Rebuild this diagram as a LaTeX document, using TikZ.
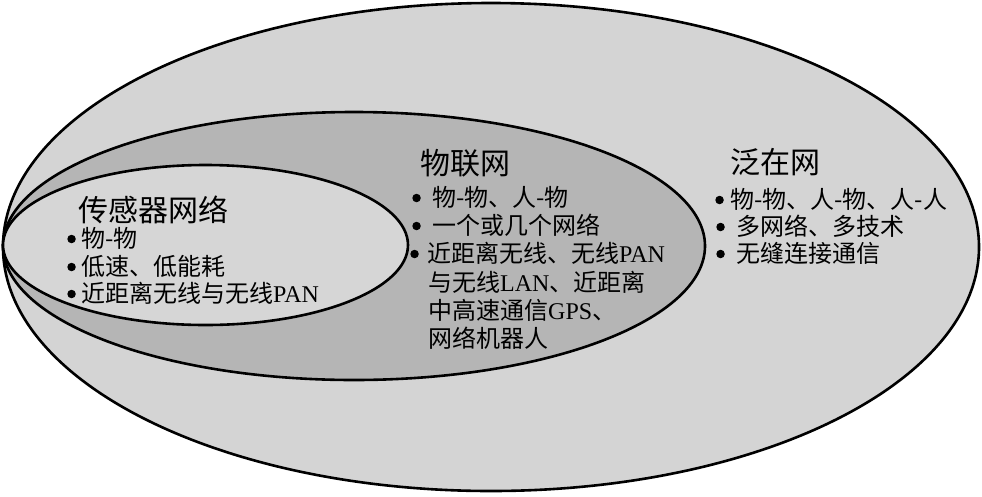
\documentclass[tikz,border=0pt]{standalone}
\usepackage{fontspec}
\setmainfont{Liberation Serif}
\newfontfamily\cjk{Noto Sans CJK SC}

\definecolor{outerfill}{gray}{0.83}
\definecolor{midfill}{gray}{0.71}
\definecolor{innerfill}{gray}{0.84}

\newcommand{\lat}[1]{{\rmfamily #1}}

\tikzset{
    netring/.style={draw=black, line width=2.6pt},
    nettitle/.style={anchor=base west, inner sep=0pt, text height=26pt, text depth=4pt,
        font=\cjk\fontsize{30}{30}\selectfont},
    netitem/.style={anchor=base west, inner sep=0pt, text height=20pt, text depth=4pt,
        font=\cjk\fontsize{24}{24}\selectfont},
    bulletdot/.style={circle, fill=black, inner sep=0pt, minimum size=8.5pt},
    bulleted/.style={label={[bulletdot, label distance=#1]left:{}}}
}

\begin{document}
\begin{tikzpicture}[x=1pt, y=-1pt, line cap=round, line join=round]

    \useasboundingbox (0,0) rectangle (982,496);

    % ------------------------------------------------------------------
    % 1. Nested rings, all touching at the left end
    % ------------------------------------------------------------------
    \filldraw[netring, fill=outerfill] (491,247) ellipse [x radius=488pt, y radius=244pt];
    \filldraw[netring, fill=midfill]   (354,246) ellipse [x radius=351pt, y radius=134pt];
    \filldraw[netring, fill=innerfill] (205.5,245) ellipse [x radius=202.5pt, y radius=80pt];

    % ------------------------------------------------------------------
    % 2. Sensor network (inner ring)
    % ------------------------------------------------------------------
    \node[nettitle] (sn-title) at (78,221) {传感器网络};
    \node[netitem, bulleted=5pt] (sn-a) at (81,247) {物-物};
    \node[netitem, bulleted=5pt] (sn-b) at (81,275) {低速、低能耗};
    \node[netitem, bulleted=5pt] (sn-c) at (81,302) {近距离无线与无线\lat{PAN}};

    % ------------------------------------------------------------------
    % 3. Internet of things (middle ring)
    % ------------------------------------------------------------------
    \node[nettitle] (iot-title) at (420,174) {物联网};
    \node[netitem, bulleted=11pt] (iot-a) at (432,206) {物-物、人-物};
    \node[netitem, bulleted=11pt] (iot-b) at (432,234) {一个或几个网络};
    \node[netitem, bulleted=8pt] (iot-c) at (427,262) {近距离无线、无线\lat{PAN}};
    \node[netitem] (iot-d) at (428,291) {与无线\lat{LAN}、近距离};
    \node[netitem] (iot-e) at (428,319) {中高速通信\lat{GPS}、};
    \node[netitem] (iot-f) at (428,347) {网络机器人};

    % ------------------------------------------------------------------
    % 4. Ubiquitous network (outer ring)
    % ------------------------------------------------------------------
    \node[nettitle] (ubi-title) at (730,173) {泛在网};
    \node[netitem, bulleted=6pt] (ubi-a) at (730,208) {物-物、人-物、人-人};
    \node[netitem, bulleted=11pt] (ubi-b) at (736,235) {多网络、多技术};
    \node[netitem, bulleted=11pt] (ubi-c) at (736,262) {无缝连接通信};

\end{tikzpicture}
\end{document}
